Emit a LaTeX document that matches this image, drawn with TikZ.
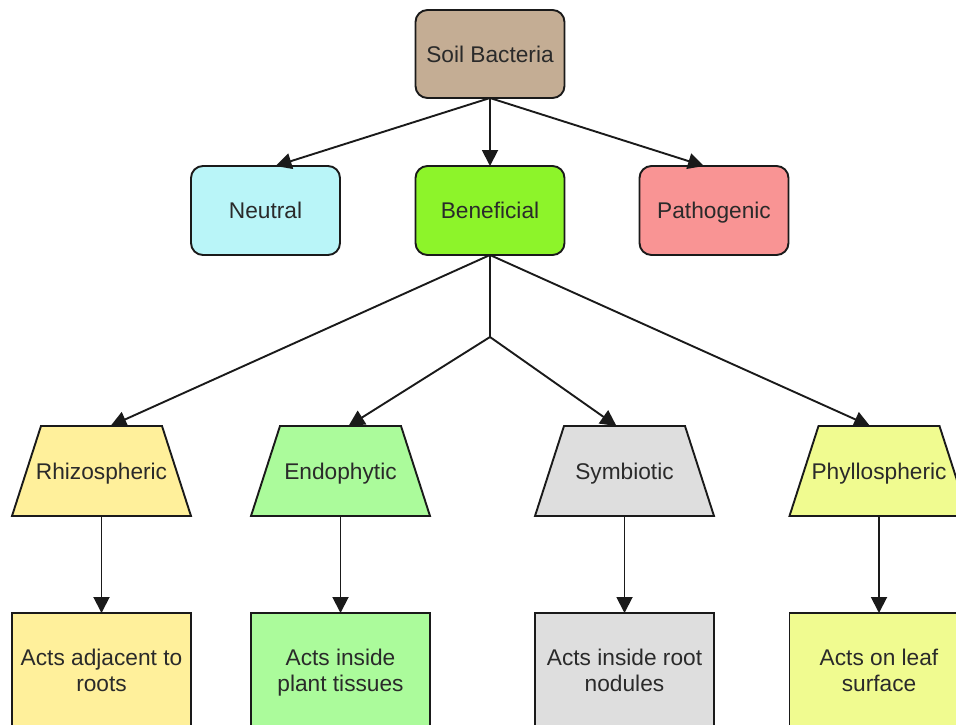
\documentclass[tikz,border=0pt]{standalone}
\usepackage{fontspec}
\setmainfont{Liberation Sans}
\usetikzlibrary{arrows.meta,calc,backgrounds}
\definecolor{soilc}{HTML}{C4AD94}
\definecolor{neuc}{HTML}{B9F5F8}
\definecolor{benc}{HTML}{8DF42A}
\definecolor{patc}{HTML}{F99494}
\definecolor{rhc}{HTML}{FFF09B}
\definecolor{enc}{HTML}{ABFB9B}
\definecolor{syc}{HTML}{DEDEDE}
\definecolor{phc}{HTML}{F0FB90}
\definecolor{linec}{HTML}{1A1A1A}
\definecolor{txtc}{HTML}{2A2A2A}
\begin{document}
\begin{tikzpicture}[x=1pt,y=-1pt,
  lbl/.style={text=txtc, font=\fontsize{22.7}{25.5}\selectfont, align=center, outer sep=0pt},
  one/.style={text height=20.5pt, text depth=4.5pt},
  rbox/.style={lbl, one, draw=linec, line width=1.9pt, rounded corners=12pt, minimum width=149pt, minimum height=89pt},
  trap/.style={lbl, one, rectangle, minimum width=179pt, minimum height=90pt, inner sep=0pt},
  trapline/.style={draw=linec, line width=1.9pt, line join=miter},
  sbox/.style={lbl, text depth=0pt, draw=linec, line width=1.9pt, rectangle, minimum width=179pt, minimum height=115pt},
  arr/.style={draw=linec, line width=1.9pt, -{Triangle[length=16pt,width=16pt]}},
  ln/.style={draw=linec, line width=1.9pt}
]
\useasboundingbox (0,0) rectangle (956,724);
\clip (0,0) rectangle (956,724);

\node[rbox, fill=soilc, minimum height=88pt] (soil) at (490,54) {Soil Bacteria};
\node[rbox, fill=neuc] (neu) at (265.5,210.5) {Neutral};
\node[rbox, fill=benc] (ben) at (490,210.5) {Beneficial};
\node[rbox, fill=patc] (pat) at (714,210.5) {Pathogenic};

\node[trap] (rh) at (101.5,471) {Rhizospheric};
\node[trap] (en) at (340.5,471) {Endophytic};
\node[trap] (sy) at (624.5,471) {Symbiotic};
\node[trap] (ph) at (879,471) {Phyllospheric};

\begin{scope}[on background layer]
\foreach \n/\c in {rh/rhc, en/enc, sy/syc, ph/phc}{
  \filldraw[trapline, fill=\c] (\n.south west) -- (\n.south east)
    -- ([xshift=-29pt]\n.north east) -- ([xshift=29pt]\n.north west) -- cycle;
}
\end{scope}

\node[sbox, fill=rhc] (rhb) at (101.5,670.5) {Acts adjacent to\\roots};
\node[sbox, fill=enc] (enb) at (340.5,670.5) {Acts inside\\plant tissues};
\node[sbox, fill=syc] (syb) at (624.5,670.5) {Acts inside root\\nodules};
\node[sbox, fill=phc] (phb) at (879,670.5) {Acts on leaf\\surface};

\coordinate (br) at (490,337);

\draw[arr] (soil.south) -- ([xshift=10pt]neu.north);
\draw[arr] (soil.south) -- (ben.north);
\draw[arr] (soil.south) -- ([xshift=-10pt]pat.north);

\draw[arr] (ben.south) -- ([xshift=9pt]rh.north);
\draw[arr] (ben.south) -- ([xshift=-9pt]ph.north);
\draw[ln] (ben.south) -- (br);
\draw[arr] (br) -- ([xshift=8pt]en.north);
\draw[arr] (br) -- ([xshift=-8pt]sy.north);

\draw[arr] (rh.south) -- (rhb.north);
\draw[arr] (en.south) -- (enb.north);
\draw[arr] (sy.south) -- (syb.north);
\draw[arr] (ph.south) -- (phb.north);
\end{tikzpicture}
\end{document}
